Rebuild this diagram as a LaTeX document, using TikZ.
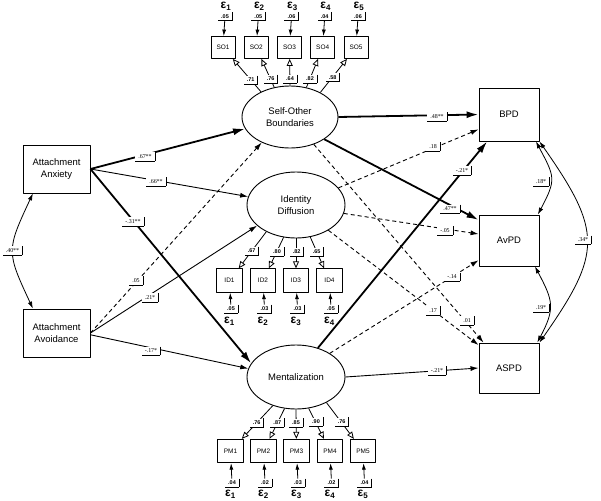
\documentclass[tikz,border=0pt]{standalone}
\usepackage{fontspec}
\setmainfont{Liberation Sans}
\newfontfamily\coeffont{Liberation Serif}
\usetikzlibrary{arrows.meta,shapes}

\begin{document}
\begin{tikzpicture}[>={Latex[length=8bp,width=5bp]},join=bevel]
 \tikzstyle{latent}=[draw,ellipse,line width=0.9bp,inner sep=0pt,align=center,font=\fontsize{9.5}{12}\selectfont]
 \tikzstyle{observed}=[draw,rectangle,line width=0.9bp,inner sep=0pt,align=center,minimum width=60bp,font=\fontsize{9.5}{12}\selectfont]
 \tikzstyle{item}=[draw,rectangle,line width=0.8bp,minimum width=24bp,minimum height=22bp,inner sep=0pt,font=\fontsize{6.5}{7}\selectfont]
 \tikzstyle{err}=[inner sep=0pt,font=\fontsize{12}{12}\selectfont\bfseries]
 \tikzstyle{coef}=[fill=white,inner xsep=3bp,inner ysep=2.2bp,font=\fontsize{6}{6}\coeffont,
   append after command={\pgfextra{\let\coefnode\tikzlastnode}
     (\coefnode.north east) edge[-,line width=0.8bp] (\coefnode.south east)
     (\coefnode.south east) edge[-,line width=0.8bp] (\coefnode.south west)}]
 \tikzstyle{ld}=[coef,font=\fontsize{5.5}{6}\selectfont\bfseries]
 \tikzstyle{reg}=[->,line width=0.9bp]
 \tikzstyle{regb}=[-{Latex[length=12bp,width=7bp]},line width=1.8bp]
 \tikzstyle{regd}=[->,line width=0.9bp,dash pattern=on 4bp off 3bp]
 \tikzstyle{evar}=[-{Latex[length=6.5bp,width=4bp]},line width=0.8bp]
 \tikzstyle{load}=[-{Triangle[open,length=7bp,width=6bp]},line width=0.8bp]
 \tikzstyle{cov}=[{Latex[length=7bp,width=4.5bp]}-{Latex[length=7bp,width=4.5bp]},line width=0.8bp]

 \useasboundingbox (0bp,0bp) rectangle (601bp,-501bp);

 % predictors, mediators, outcomes
 \node (anx) at (56.5bp,-169bp) [observed,minimum width=67bp,minimum height=48bp] {Attachment\\Anxiety};
 \node (avo) at (56.5bp,-333bp) [observed,minimum width=67bp,minimum height=48bp] {Attachment\\Avoidance};
 \node (SO) at (290bp,-117bp) [latent,minimum width=96bp,minimum height=62bp] {Self-Other\\Boundaries};
 \node (ID) at (296bp,-205bp) [latent,minimum width=98bp,minimum height=66bp] {Identity\\Diffusion};
 \node (M) at (296bp,-377bp) [latent,minimum width=98bp,minimum height=64bp] {Mentalization};
 \node (BPD) at (509bp,-114.5bp) [observed,minimum height=53bp] {BPD};
 \node (AvPD) at (509bp,-240.5bp) [observed,minimum height=51bp] {AvPD};
 \node (ASPD) at (509bp,-368bp) [observed,minimum height=50bp] {ASPD};

 % self-other items
 \node (so1) at (223bp,-47.5bp) [item] {SO1};
 \node (so2) at (256.3bp,-47.5bp) [item] {SO2};
 \node (so3) at (289.5bp,-47.5bp) [item] {SO3};
 \node (so4) at (322.7bp,-47.5bp) [item] {SO4};
 \node (so5) at (356bp,-47.5bp) [item] {SO5};
 \node (se1) at (226bp,-6bp) [err] {ε\textsubscript{1}};
 \node (se2) at (259.3bp,-6bp) [err] {ε\textsubscript{2}};
 \node (se3) at (292.5bp,-6bp) [err] {ε\textsubscript{3}};
 \node (se4) at (325.7bp,-6bp) [err] {ε\textsubscript{4}};
 \node (se5) at (359bp,-6bp) [err] {ε\textsubscript{5}};
 \node (sv1) at (225bp,-16.5bp) [ld] {.05};
 \node (sv2) at (258.3bp,-16.5bp) [ld] {.05};
 \node (sv3) at (291.5bp,-16.5bp) [ld] {.06};
 \node (sv4) at (324.7bp,-16.5bp) [ld] {.04};
 \node (sv5) at (358bp,-16.5bp) [ld] {.06};

 % identity items
 \node (id1) at (229.5bp,-280.5bp) [item,minimum width=25.5bp,minimum height=23.5bp] {ID1};
 \node (id2) at (263bp,-280.5bp) [item,minimum width=25.5bp,minimum height=23.5bp] {ID2};
 \node (id3) at (296bp,-280.5bp) [item,minimum width=25.5bp,minimum height=23.5bp] {ID3};
 \node (id4) at (329.5bp,-280.5bp) [item,minimum width=25.5bp,minimum height=23.5bp] {ID4};
 \node (iv1) at (231bp,-309bp) [ld] {.05};
 \node (iv2) at (264.5bp,-309bp) [ld] {.03};
 \node (iv3) at (297.5bp,-309bp) [ld] {.03};
 \node (iv4) at (331bp,-309bp) [ld] {.05};
 \node (ie1) at (229.5bp,-321bp) [err] {ε\textsubscript{1}};
 \node (ie2) at (263bp,-321bp) [err] {ε\textsubscript{2}};
 \node (ie3) at (296bp,-321bp) [err] {ε\textsubscript{3}};
 \node (ie4) at (329.5bp,-321bp) [err] {ε\textsubscript{4}};

 % mentalization items
 \node (pm1) at (230.5bp,-451bp) [item,minimum width=25.5bp,minimum height=23.5bp] {PM1};
 \node (pm2) at (263.5bp,-451bp) [item,minimum width=25.5bp,minimum height=23.5bp] {PM2};
 \node (pm3) at (296.5bp,-451bp) [item,minimum width=25.5bp,minimum height=23.5bp] {PM3};
 \node (pm4) at (330bp,-451bp) [item,minimum width=25.5bp,minimum height=23.5bp] {PM4};
 \node (pm5) at (363bp,-451bp) [item,minimum width=25.5bp,minimum height=23.5bp] {PM5};
 \node (pv1) at (232bp,-483bp) [ld] {.04};
 \node (pv2) at (265bp,-483bp) [ld] {.02};
 \node (pv3) at (298bp,-483bp) [ld] {.03};
 \node (pv4) at (331.5bp,-483bp) [ld] {.02};
 \node (pv5) at (364.5bp,-483bp) [ld] {.04};
 \node (pe1) at (230.5bp,-494bp) [err] {ε\textsubscript{1}};
 \node (pe2) at (263.5bp,-494bp) [err] {ε\textsubscript{2}};
 \node (pe3) at (296.5bp,-494bp) [err] {ε\textsubscript{3}};
 \node (pe4) at (330bp,-494bp) [err] {ε\textsubscript{4}};
 \node (pe5) at (363bp,-494bp) [err] {ε\textsubscript{5}};

 % error variances
 \draw [evar] (sv1) to (so1);
 \draw [evar] (sv2) to (so2);
 \draw [evar] (sv3) to (so3);
 \draw [evar] (sv4) to (so4);
 \draw [evar] (sv5) to (so5);
 \draw [evar] (iv1) to (id1);
 \draw [evar] (iv2) to (id2);
 \draw [evar] (iv3) to (id3);
 \draw [evar] (iv4) to (id4);
 \draw [evar] (pv1) to (pm1);
 \draw [evar] (pv2) to (pm2);
 \draw [evar] (pv3) to (pm3);
 \draw [evar] (pv4) to (pm4);
 \draw [evar] (pv5) to (pm5);

 % loadings
 \draw [load] (SO.139) to (so1);
 \draw [load] (SO.118) to (so2);
 \draw [load] (SO.90) to (so3);
 \draw [load] (SO.61) to (so4);
 \draw [load] (SO.39) to (so5);
 \draw [load] (ID.222) to (id1);
 \draw [load] (ID.249) to (id2);
 \draw [load] (ID.270) to (id3);
 \draw [load] (ID.294) to (id4);
 \draw [load] (M.231) to (pm1);
 \draw [load] (M.250) to (pm2);
 \draw [load] (M.270) to (pm3);
 \draw [load] (M.292) to (pm4);
 \draw [load] (M.320) to (pm5);

 % structural paths
 \draw [regb] (anx.east) to (SO);
 \draw [reg] (anx.east) to (ID);
 \draw [regb] (anx.east) to (M.163);
 \draw [regd] (avo.east) to (SO.222);
 \draw [reg] (avo.east) to (ID.208);
 \draw [reg] (avo.-3) to (M.170);
 \draw [regb] (SO.east) to (BPD.west);
 \draw [regb] (SO.-33) to (AvPD.146);
 \draw [regd] (SO.-49) to (ASPD.135);
 \draw [regd] (ID.22) to (BPD.206);
 \draw [regd] (ID.-10) to (AvPD.168);
 \draw [regd] (ID.-38) to (ASPD.143);
 \draw [regb] (M.53) to (BPD.231);
 \draw [regd] (M.35) to (AvPD.213);
 \draw [reg] (M.east) to (ASPD.west);

 % covariances
 \draw [cov] (anx.226) to[out=245,in=115,looseness=1.4] (avo.134);
 \draw [cov] (BPD.-45) to[out=-62,in=62,looseness=1.4] (AvPD.42);
 \draw [cov] (AvPD.-45) to[out=-62,in=62,looseness=1.3] (ASPD.42);
 \draw [cov] (BPD.south east) to[out=-55,in=55,looseness=1.4] (ASPD.north east);

 % loading labels
 \node (sl1) at (250.7bp,-80bp) [ld] {.71};
 \node (sl2) at (270.7bp,-79bp) [ld] {.76};
 \node (sl3) at (290bp,-79bp) [ld] {.64};
 \node (sl4) at (310bp,-79bp) [ld] {.82};
 \node (sl5) at (332.7bp,-77.5bp) [ld] {.58};
 \node (il1) at (251.7bp,-251bp) [ld] {.67};
 \node (il2) at (277bp,-251.7bp) [ld] {.80};
 \node (il3) at (296.7bp,-251.7bp) [ld] {.82};
 \node (il4) at (316.7bp,-251.7bp) [ld] {.65};
 \node (pl1) at (256.7bp,-422.7bp) [ld] {.76};
 \node (pl2) at (277.3bp,-422.7bp) [ld] {.87};
 \node (pl3) at (296bp,-422.7bp) [ld] {.85};
 \node (pl4) at (316bp,-421.7bp) [ld] {.90};
 \node (pl5) at (341.7bp,-421.7bp) [ld] {.76};

 % path coefficients
 \node (c1) at (145bp,-156.5bp) [coef] {.67**};
 \node (c2) at (156bp,-181.5bp) [coef] {.66**};
 \node (c3) at (133bp,-221.5bp) [coef] {-.31**};
 \node (c4) at (136bp,-280.5bp) [coef] {.05};
 \node (c5) at (150bp,-297.5bp) [coef] {.21*};
 \node (c6) at (151bp,-351bp) [coef] {-.17*};
 \node (c7) at (437bp,-116.5bp) [coef] {.48**};
 \node (c8) at (450bp,-209bp) [coef] {.47**};
 \node (c9) at (467bp,-320.5bp) [coef] {.01};
 \node (c10) at (433bp,-146.5bp) [coef] {.18};
 \node (c11) at (445bp,-230.5bp) [coef] {-.05};
 \node (c12) at (433bp,-310.5bp) [coef] {.17};
 \node (c13) at (462bp,-170.5bp) [coef] {-.21*};
 \node (c14) at (452bp,-277bp) [coef] {-.14};
 \node (c15) at (437bp,-370.5bp) [coef] {-.21*};
 \node (r1) at (12.5bp,-250.5bp) [coef] {.40**};
 \node (r2) at (541bp,-181.5bp) [coef] {.18*};
 \node (r3) at (541bp,-308bp) [coef] {.19*};
 \node (r4) at (583bp,-240bp) [coef] {.34*};
\end{tikzpicture}
\end{document}
